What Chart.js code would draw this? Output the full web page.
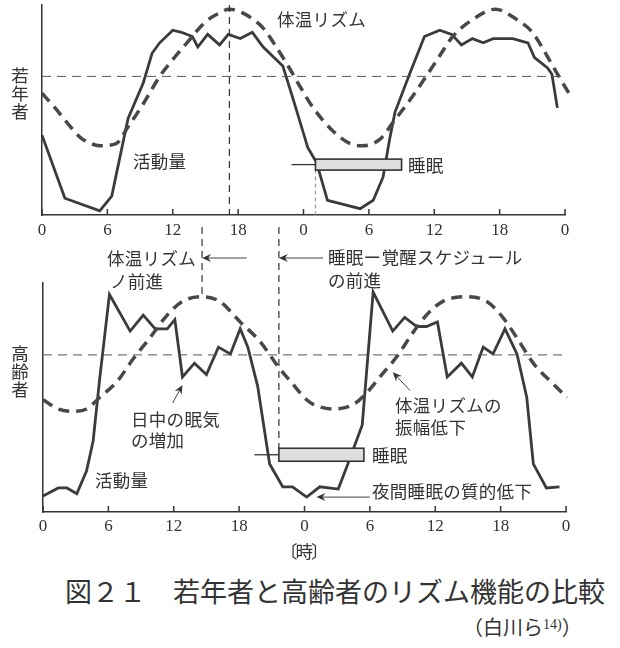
<!DOCTYPE html>
<html>
<head>
<meta charset="utf-8">
<script src="https://cdn.jsdelivr.net/npm/chart.js@4.4.1/dist/chart.umd.min.js"></script>
<style>
body { margin: 0; background: #fff; }
#wrap { position: relative; width: 620px; height: 648px; overflow: hidden; font-family: "Noto Sans CJK JP", sans-serif; color: #333; }
canvas { position: absolute; left: 0; }
.t { position: absolute; font-size: 17.5px; line-height: 1; white-space: nowrap; letter-spacing: 0.3px; }
.v { writing-mode: vertical-rl; }
</style>
</head>
<body>
<div id="wrap">
  <canvas id="young" width="620" height="245" style="top:0"></canvas>
  <canvas id="old" width="620" height="315" style="top:225px"></canvas>

  <div class="t" style="left:277px;top:10px">体温リズム</div>
  <div class="t" style="left:133px;top:152px">活動量</div>
  <div class="t" style="left:408px;top:156px">睡眠</div>
  <div class="t v" style="left:11px;top:67px">若年者</div>

  <div class="t" style="left:107px;top:249px">体温リズム</div>
  <div class="t" style="left:110px;top:272px">ノ前進</div>
  <div class="t" style="left:328px;top:248px">睡眠ー覚醒スケジュール</div>
  <div class="t" style="left:328px;top:271px">の前進</div>

  <div class="t v" style="left:11px;top:345px">高齢者</div>
  <div class="t" style="left:131px;top:410px">日中の眠気</div>
  <div class="t" style="left:131px;top:431px">の増加</div>
  <div class="t" style="left:95px;top:471px">活動量</div>
  <div class="t" style="left:395px;top:396px">体温リズムの</div>
  <div class="t" style="left:395px;top:418px">振幅低下</div>
  <div class="t" style="left:372px;top:446px">睡眠</div>
  <div class="t" style="left:372px;top:482px">夜間睡眠の質的低下</div>

  <div class="t" style="left:280px;top:542px;font-size:17.5px;letter-spacing:-2px">〔時〕</div>
  <div class="t" style="left:65px;top:577px;font-size:27px;letter-spacing:0">図２１　若年者と高齢者のリズム機能の比較</div>
  <div class="t" style="left:463px;top:617px;font-size:20px;letter-spacing:0">（白川ら<span style="font-family:'Liberation Serif';font-size:14px;vertical-align:6px">14)</span>）</div>
</div>

<script>
// x = hour of the day over two days (0-48), y = relative level (0-100)
var tickLabels = ['0', '6', '12', '18', '0', '6', '12', '18', '0'];

var youngTemp = [[0, 58], [1.2, 51], [2.3, 44], [3.5, 37], [4.5, 34], [5.3, 33], [6.8, 34], [7.9, 42], [9.3, 53],
    [10.8, 66], [12, 74], [13.3, 82], [15, 92], [16.2, 96], [17.2, 98], [18.5, 96], [20.3, 89], [21.5, 80],
    [22.7, 70], [23.7, 61], [24.9, 51], [26.7, 40], [28.3, 34], [29.4, 33], [31, 36], [32.2, 44], [33.8, 55],
    [35, 64], [36.4, 75], [37.7, 85], [39.5, 93], [41.6, 98], [43.6, 93], [45, 87], [46.1, 78], [47.2, 68], [48.6, 56]];

var youngAct = [[0, 38], [2.1, 8], [5.3, 2], [6.4, 9], [7.9, 46], [9.3, 63], [10.1, 77], [10.8, 82], [12, 88],
    [12.8, 87], [13.8, 85], [14.3, 80], [15.2, 86], [16.3, 81], [17.1, 86], [18.2, 84], [19.3, 87], [20.3, 80],
    [22.1, 71], [23, 56], [24.4, 32], [25.2, 25], [26.2, 7], [29.2, 3], [30.4, 7], [31.3, 18], [31.9, 36],
    [32.4, 49], [33.8, 68], [35.1, 85], [36.5, 88], [37.6, 86], [38.5, 81], [39.5, 84], [40.5, 82], [41.4, 84],
    [43.2, 84], [44.6, 82], [45.2, 75], [46.4, 70], [46.8, 67], [47.3, 51]];

var oldTemp = [[0, 49], [1.4, 45], [2.7, 44], [4, 45], [5.2, 50], [6.8, 57], [8.3, 67], [9.8, 76], [11.4, 86],
    [12.8, 92], [14.6, 94], [16.2, 92], [18.1, 83], [20, 74], [21.5, 64], [22.9, 56], [24.2, 49], [24.8, 47],
    [26.6, 45], [28.5, 47], [29.7, 52], [31.1, 60], [32.5, 68], [33.9, 78], [35.2, 86], [36.7, 92], [38.9, 94],
    [40.7, 92], [42.2, 85], [43.5, 76], [45, 65], [46.8, 56], [48.1, 50]];

var oldAct = [[0, 7], [1.4, 10.5], [2.2, 10.5], [3.1, 8], [4, 18], [4.6, 31], [5.2, 58], [6.1, 95], [8, 79],
    [9.2, 86], [10.3, 80], [11.4, 80], [12.1, 84], [12.8, 59], [13.9, 65], [15, 60], [16.1, 72], [17.2, 69],
    [18.1, 80], [18.8, 72], [19.7, 55], [20.8, 21], [22, 11], [22.9, 11], [24.2, 6.5], [25.4, 11], [27.1, 10],
    [27.9, 20], [29.3, 38], [30.3, 96], [32.1, 79], [33.2, 85], [34.3, 81], [35.2, 81], [36.2, 83], [37.1, 59],
    [38.4, 65], [39.4, 59], [40.4, 72], [41.3, 69], [42.4, 80], [43.5, 69], [44.4, 50], [45, 21], [46.2, 10.5],
    [47.4, 11]];

var meanLevel = [66, 68.6];      // young, old
var tempPeak = [17.2, 14.6];     // hour of body temperature peak
var sleepYoung = [22.9, 25.1, 33.0]; // lead line start, sleep start, sleep end
var sleepOld = [19.4, 21.65, 29.45];
var sleepLevel = [24, 25];

function toXY(arr) {
    return arr.map(function (p) { return { x: p[0], y: p[1] }; });
}

function dashedV(ctx, x, y1, y2, color, dash) {
    ctx.save();
    ctx.strokeStyle = color;
    ctx.lineWidth = 1.2;
    ctx.setLineDash(dash);
    ctx.beginPath();
    ctx.moveTo(x, y1);
    ctx.lineTo(x, y2);
    ctx.stroke();
    ctx.restore();
}

function arrow(ctx, x1, y1, x2, y2) {
    var a = Math.atan2(y2 - y1, x2 - x1);
    ctx.save();
    ctx.strokeStyle = '#444';
    ctx.fillStyle = '#333';
    ctx.lineWidth = 1;
    ctx.beginPath();
    ctx.moveTo(x1, y1);
    ctx.lineTo(x2 - Math.cos(a) * 4, y2 - Math.sin(a) * 4);
    ctx.stroke();
    ctx.translate(x2, y2);
    ctx.rotate(a);
    ctx.beginPath();
    ctx.moveTo(0, 0);
    ctx.lineTo(-9, -4);
    ctx.lineTo(-6, 0);
    ctx.lineTo(-9, 4);
    ctx.closePath();
    ctx.fill();
    ctx.restore();
}

function sleepBar(ctx, xs, ys, s, halfH) {
    var y = ys.getPixelForValue(s.level);
    var x0 = xs.getPixelForValue(s.range[0]);
    var x1 = xs.getPixelForValue(s.range[1]);
    var x2 = xs.getPixelForValue(s.range[2]);
    ctx.save();
    ctx.strokeStyle = '#333';
    ctx.lineWidth = 1.3;
    ctx.beginPath();
    ctx.moveTo(x0, y);
    ctx.lineTo(x1, y);
    ctx.stroke();
    ctx.fillStyle = '#dedede';
    ctx.fillRect(x1, y - halfH, x2 - x1, halfH * 2);
    ctx.lineWidth = 1.6;
    ctx.strokeRect(x1, y - halfH, x2 - x1, halfH * 2);
    ctx.restore();
}

function innerTicks(chart) {
    var xs = chart.scales.x, ctx = chart.ctx, b = chart.chartArea.bottom;
    ctx.save();
    ctx.strokeStyle = '#333';
    ctx.lineWidth = 1.5;
    xs.ticks.forEach(function (t) {
        var x = xs.getPixelForValue(t.value);
        ctx.beginPath();
        ctx.moveTo(x, b);
        ctx.lineTo(x, b - 6);
        ctx.stroke();
    });
    ctx.restore();
}

var youngMarks = {
    id: 'youngMarks',
    afterDatasetsDraw: function (chart) {
        var ctx = chart.ctx, xs = chart.scales.x, ys = chart.scales.y, area = chart.chartArea;
        innerTicks(chart);
        dashedV(ctx, xs.getPixelForValue(tempPeak[0]), area.top, area.bottom, '#333', [7, 5]);
        dashedV(ctx, xs.getPixelForValue(sleepYoung[1]), ys.getPixelForValue(sleepLevel[0]) + 5, area.bottom, '#999', [4, 3]);
        sleepBar(ctx, xs, ys, { level: sleepLevel[0], range: sleepYoung }, 5.5);
    }
};

var oldMarks = {
    id: 'oldMarks',
    afterDatasetsDraw: function (chart) {
        var ctx = chart.ctx, xs = chart.scales.x, ys = chart.scales.y, area = chart.chartArea;
        innerTicks(chart);
        var px = xs.getPixelForValue(tempPeak[1]);
        var ps = xs.getPixelForValue(sleepOld[1]);
        dashedV(ctx, px, 2, ys.getPixelForValue(94) - 1, '#333', [7, 5]);
        dashedV(ctx, ps, 2, ys.getPixelForValue(sleepLevel[1]) - 6, '#333', [7, 5]);
        sleepBar(ctx, xs, ys, { level: sleepLevel[1], range: sleepOld }, 6.5);
        var ay = area.top - 25;
        arrow(ctx, xs.getPixelForValue(18.7), ay, px, ay);
        arrow(ctx, xs.getPixelForValue(25.7), ay, ps, ay);
        arrow(ctx, xs.getPixelForValue(11.9), ys.getPixelForValue(47.6), xs.getPixelForValue(12.8), ys.getPixelForValue(55.5));
        arrow(ctx, xs.getPixelForValue(33.7), ys.getPixelForValue(53), xs.getPixelForValue(32.1), ys.getPixelForValue(61));
        arrow(ctx, xs.getPixelForValue(30.0), ys.getPixelForValue(6.5), xs.getPixelForValue(25.1), ys.getPixelForValue(6.5));
    }
};

function makeChart(id, temp, act, mean, pad, axisH, labelPad, marks) {
    return new Chart(document.getElementById(id).getContext('2d'), {
        type: 'line',
        data: {
            datasets: [{
                data: [{ x: 0, y: mean }, { x: 48, y: mean }],
                borderColor: '#5a5550',
                borderWidth: 1,
                borderDash: [9, 6],
                pointRadius: 0
            }, {
                data: toXY(temp),
                borderColor: '#484848',
                borderWidth: 3.5,
                borderDash: [11, 7],
                cubicInterpolationMode: 'monotone',
                pointRadius: 0,
                clip: false
            }, {
                data: toXY(act),
                borderColor: '#3b3b3b',
                borderWidth: 2.8,
                tension: 0,
                pointRadius: 0
            }]
        },
        options: {
            responsive: false,
            animation: false,
            layout: { padding: pad },
            plugins: { legend: { display: false }, tooltip: { enabled: false } },
            scales: {
                x: {
                    type: 'linear',
                    min: 0,
                    max: 48,
                    afterFit: function (s) { s.height = axisH; },
                    grid: { display: false, drawTicks: false },
                    border: { display: true, color: '#333', width: 1.5 },
                    ticks: {
                        stepSize: 6,
                        autoSkip: false,
                        maxRotation: 0,
                        padding: labelPad,
                        color: '#333',
                        font: { family: 'Liberation Serif', size: 17 },
                        callback: function (v, i) { return tickLabels[i]; }
                    }
                },
                y: {
                    min: 0,
                    max: 100,
                    afterFit: function (s) { s.width = 0; },
                    grid: { display: false, drawTicks: false },
                    border: { display: true, color: '#333', width: 1.5 },
                    ticks: { display: false }
                }
            }
        },
        plugins: [marks]
    });
}

makeChart('young', youngTemp, youngAct, meanLevel[0], { left: 42, right: 55, top: 5, bottom: 0 }, 30, 5, youngMarks);
makeChart('old', oldTemp, oldAct, meanLevel[1], { left: 43, right: 54, top: 58, bottom: 0 }, 28, 4, oldMarks);
</script>
</body>
</html>
